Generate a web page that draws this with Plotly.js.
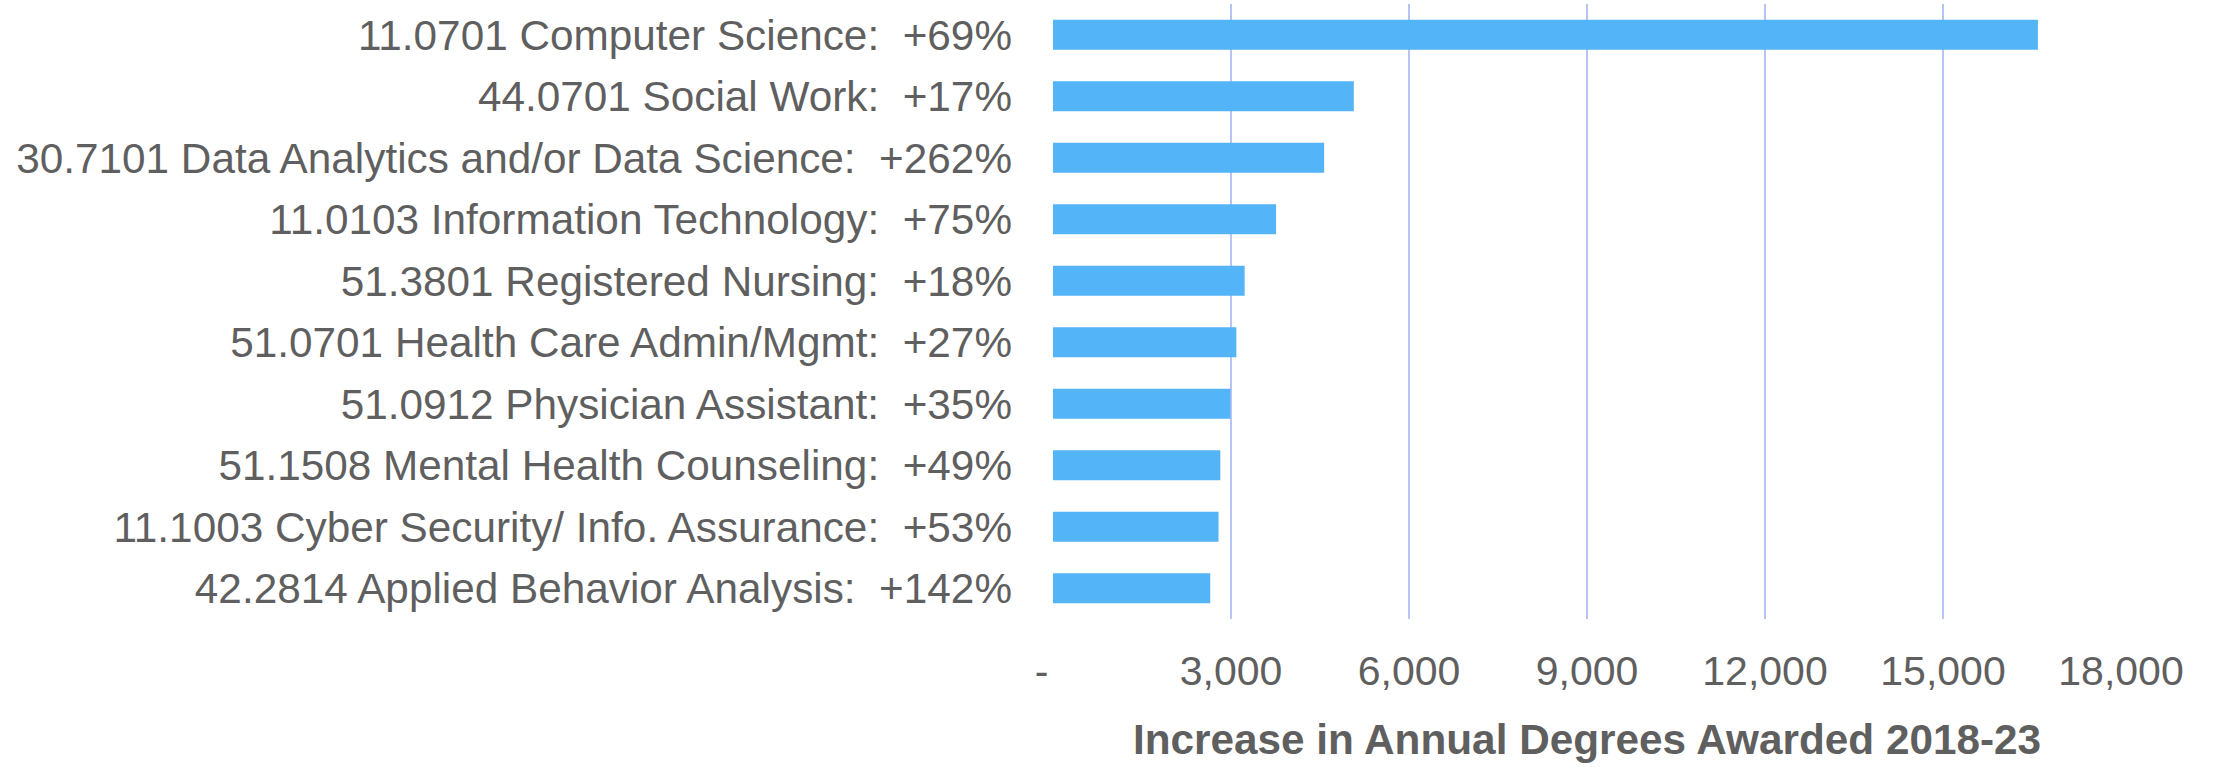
<!DOCTYPE html>
<html>
<head>
<meta charset="utf-8">
<script src="https://cdn.plot.ly/plotly-3.0.1.min.js"></script>
<style>
  html, body { margin: 0; padding: 0; background: #ffffff; }
  #chart { width: 2214px; height: 769px; }
</style>
</head>
<body>
<div id="chart"></div>
<script>
var SP = "\u00a0\u00a0";
var categories = [
  "11.0701 Computer Science:" + SP + "+69%",
  "44.0701 Social Work:" + SP + "+17%",
  "30.7101 Data Analytics and/or Data Science:" + SP + "+262%",
  "11.0103 Information Technology:" + SP + "+75%",
  "51.3801 Registered Nursing:" + SP + "+18%",
  "51.0701 Health Care Admin/Mgmt:" + SP + "+27%",
  "51.0912 Physician Assistant:" + SP + "+35%",
  "51.1508 Mental Health Counseling:" + SP + "+49%",
  "11.1003 Cyber Security/ Info. Assurance:" + SP + "+53%",
  "42.2814 Applied Behavior Analysis:" + SP + "+142%"
];
var increases = [16600, 5070, 4570, 3760, 3230, 3090, 2990, 2820, 2790, 2650];
var tickValues = [0, 3000, 6000, 9000, 12000, 15000, 18000];
var tickLabels = ["-\u00a0\u00a0", "3,000", "6,000", "9,000", "12,000", "15,000", "18,000"];
var xTitle = "Increase in Annual Degrees Awarded 2018-23";

var textColor = "#5f5f5f";
var fontFamily = "'Liberation Sans', Arial, sans-serif";

var trace = {
  type: "bar",
  orientation: "h",
  x: increases,
  y: categories,
  marker: { color: "#54b4f8", line: { width: 0 } },
  hoverinfo: "x+y"
};

var layout = {
  width: 2214,
  height: 769,
  margin: { l: 1053, r: 93, t: 4, b: 150, pad: 0 },
  paper_bgcolor: "#ffffff",
  plot_bgcolor: "#ffffff",
  showlegend: false,
  bargap: 0.51,
  font: { family: fontFamily, color: textColor, size: 42 },
  xaxis: {
    range: [0, 18000],
    tickmode: "array",
    tickvals: tickValues,
    ticktext: tickLabels,
    showgrid: true,
    gridcolor: "#b8c3f8",
    gridwidth: 2,
    zeroline: false,
    showline: false,
    ticks: "",
    ticklabelstandoff: 24,
    tickfont: { family: fontFamily, size: 41, color: textColor },
    title: {
      text: xTitle,
      font: { family: fontFamily, size: 42.3, color: textColor, weight: "bold" },
      standoff: 31
    },
    fixedrange: true
  },
  yaxis: {
    type: "category",
    categoryorder: "array",
    categoryarray: categories,
    autorange: "reversed",
    showgrid: false,
    zeroline: false,
    showline: false,
    ticks: "",
    ticklabelstandoff: 40,
    tickfont: { family: fontFamily, size: 42.3, color: textColor },
    fixedrange: true
  },
  shapes: [],
  annotations: []
};

Plotly.newPlot("chart", [trace], layout, { displayModeBar: false, staticPlot: true });
</script>
</body>
</html>
